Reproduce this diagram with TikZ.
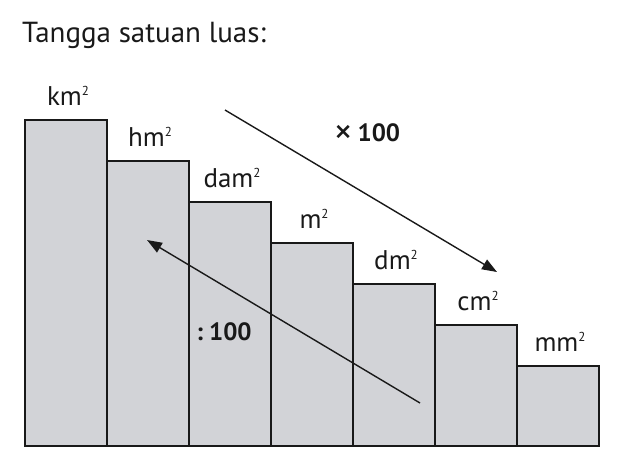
\documentclass[tikz,border=0pt]{standalone}
\usepackage{fontspec}
\setmainfont{PT Sans}
\usetikzlibrary{arrows.meta}
\definecolor{barfill}{RGB}{210,211,215}
\definecolor{ink}{RGB}{25,25,25}
\newcommand{\sqr}{\raisebox{9.5pt}{\fontsize{13}{13}\selectfont 2}}
\begin{document}
\begin{tikzpicture}[x=1pt,y=-1pt,
  bar/.style={draw=ink,line width=2pt,fill=barfill},
  unit/.style={font=\fontsize{27}{27}\selectfont,anchor=base,inner sep=0pt,text=ink},
  conv/.style={draw=ink,line width=1.4pt,-{Triangle[length=15pt,width=11pt]}},
  oplabel/.style={font=\bfseries\fontsize{25}{25}\selectfont,anchor=base,inner sep=0pt,text=ink},
  title/.style={font=\fontsize{29}{29}\selectfont,anchor=base west,inner sep=0pt,text=ink}]
\useasboundingbox (0,0) rectangle (620,472);
\node[title] (t) at (22,42) {Tangga satuan luas:};
\foreach \i/\u in {0/km,1/hm,2/dam,3/m,4/dm,5/cm,6/mm}{
  \pgfmathsetmacro{\xa}{25+82*\i}
  \pgfmathsetmacro{\xb}{25+82*(\i+1)}
  \pgfmathsetmacro{\yt}{120+41*\i}
  \draw[bar] (\xa,446) rectangle (\xb,\yt);
  \node[unit] (\u) at ({\xa+43},{\yt-15}) {\u\sqr};
}
\coordinate (a1) at (225,110);
\coordinate (a2) at (497,272);
\coordinate (b1) at (420,403);
\coordinate (b2) at (147,240);
\draw[conv] (a1) -- (a2);
\draw[conv] (b1) -- (b2);
\node[oplabel] (mul) at (367,141) {\raisebox{-3.5pt}{\mdseries\fontsize{37}{37}\selectfont ×}\hspace{5pt}100};
\node[oplabel] (div) at (224,340) {:\hspace{6pt}100};
\end{tikzpicture}
\end{document}
